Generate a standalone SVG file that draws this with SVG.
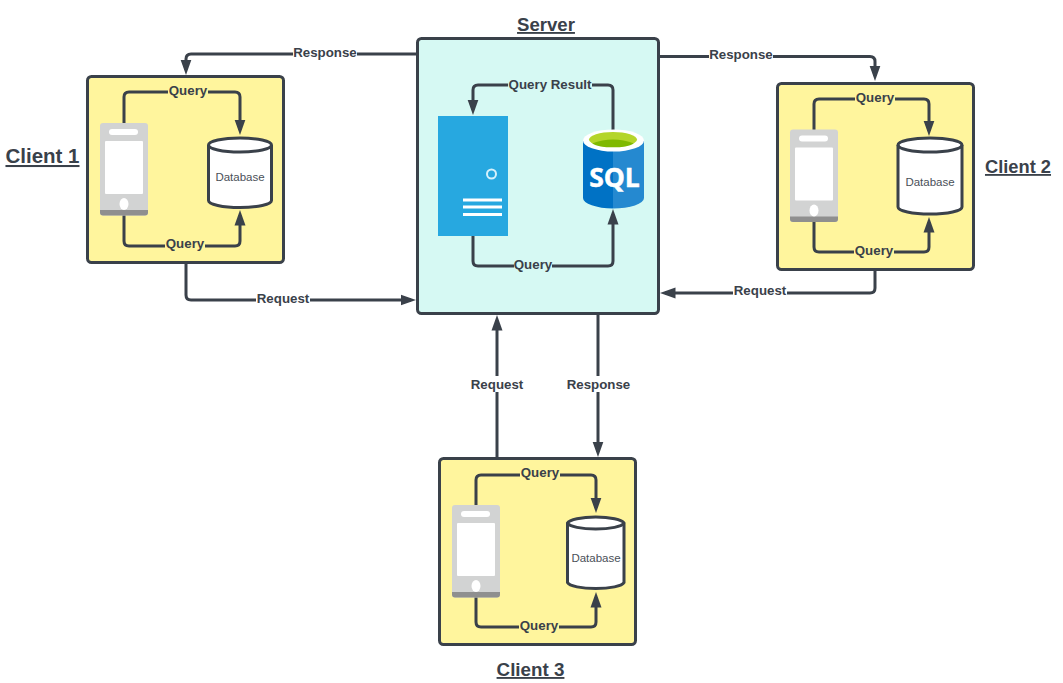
<svg xmlns="http://www.w3.org/2000/svg" width="1063" height="683" viewBox="0 0 1063 683">
<style>
text{font-family:"Liberation Sans",Arial,sans-serif;fill:#3a414a}
.box{stroke:#3a414a;stroke-width:3}
.conn{fill:none;stroke:#3a414a;stroke-width:3;stroke-linejoin:round}
.lbl{font-size:13.300px;font-weight:bold;text-anchor:middle}
.ttl{font-weight:bold;text-decoration:underline;text-anchor:middle}
.db{font-size:11.500px;text-anchor:middle;fill:#4a5058}
.cyl{fill:#fff;stroke:#3a414a;stroke-width:3}
.cyl2{fill:none;stroke:#3a414a;stroke-width:3}
</style>
<defs>
<marker id="a" markerUnits="userSpaceOnUse" markerWidth="16" markerHeight="12" refX="10.500" refY="6" orient="auto" viewBox="0 0 16 12"><path d="M0 0.500L15.500 6L0 11.500Z" fill="#3a414a"/></marker>
<g id="phone">
<rect x="0" y="0" width="48" height="92.500" rx="3" fill="#d2d3d3"/>
<path d="M0 87h48v2.500a3 3 0 0 1-3 3H3a3 3 0 0 1-3-3Z" fill="#8f8f8f"/>
<rect x="9" y="6" width="29" height="6" rx="3" fill="#fff"/>
<rect x="5" y="18" width="38" height="53" rx="1" fill="#fff"/>
<ellipse cx="24" cy="81" rx="4.500" ry="6" fill="#fff"/>
</g>
</defs>
<g id="connectors">
<path class="conn" marker-end="url(#a)" d="M417 54H191Q186 54 186 59V70"/>
<path class="conn" marker-end="url(#a)" d="M659 56.500H870Q875 56.500 875 61.500V76"/>
<path class="conn" marker-end="url(#a)" d="M186 263V295Q186 300 191 300H411"/>
<path class="conn" marker-end="url(#a)" d="M875 269V288Q875 293 870 293H665"/>
<path class="conn" marker-end="url(#a)" d="M497 458V320"/>
<path class="conn" marker-end="url(#a)" d="M598 314V452"/>
</g>
<g id="server"><rect class="box" x="417.500" y="38.500" width="241" height="275" rx="4" fill="#d6f9f3"/>
<path class="conn" marker-end="url(#a)" d="M613 130V90Q613 85 608 85H478Q473 85 473 90V110"/>
<path class="conn" marker-end="url(#a)" d="M473 236V261Q473 266 478 266H608Q613 266 613 261V214"/>
<rect x="438" y="116" width="70" height="120" fill="#27a8e0"/>
<circle cx="491.500" cy="174" r="4.500" fill="none" stroke="#d6f1fb" stroke-width="2"/>
<path d="M463 200H502M463 207H502M463 214.500H502" stroke="#fff" stroke-width="3"/>
<path d="M583 141V198A30.500 10.500 0 0 0 613 208.500V141Z" fill="#0072c5"/>
<path d="M613 141V208.500A31 10.500 0 0 0 644 198V141Z" fill="#2589d0"/>
<ellipse cx="613.500" cy="140.500" rx="30.500" ry="11" fill="#fff"/>
<ellipse cx="613" cy="139.500" rx="24" ry="7.500" fill="#b4d52a"/>
<path d="M592 143.500A24 7.500 0 0 0 634 143.500Q613 135.500 592 143.500Z" fill="#7fb900"/>
<text x="614.500" y="186.500" font-size="26.500" font-weight="bold" text-anchor="middle" stroke="#fff" stroke-width="0.500" style="fill:#fff;font-family:'Open Sans',sans-serif">SQL</text>
<rect x="508" y="77" width="84" height="16" fill="#d6f9f3"/><text class="lbl" x="550" y="88.500">Query Result</text>
<rect x="514" y="258" width="38" height="16" fill="#d6f9f3"/><text class="lbl" x="533" y="268.500">Query</text>
<text class="ttl" font-size="18.600" x="546" y="31">Server</text></g>
<g id="client1"><rect class="box" x="87.500" y="76.500" width="196" height="186" rx="4" fill="#fff59d"/>
<path class="conn" marker-end="url(#a)" d="M124 123V97Q124 92 129 92H235Q240 92 240 97V130"/>
<path class="conn" marker-end="url(#a)" d="M124 215V241Q124 246 129 246H235Q240 246 240 241V215"/>
<use href="#phone" x="100" y="123"/>
<path class="cyl" d="M208.500 145A31.500 7 0 0 1 271.500 145V200.500A31.500 7 0 0 1 208.500 200.500Z"/>
<path class="cyl2" d="M208.500 145A31.500 7 0 0 0 271.500 145"/>
<text class="db" x="240" y="181">Database</text>
<rect x="168" y="84" width="40" height="16" fill="#fff59d"/><text class="lbl" x="188" y="95">Query</text>
<rect x="165" y="236" width="40" height="16" fill="#fff59d"/><text class="lbl" x="185" y="248">Query</text>
<text class="ttl" font-size="20.500" x="42.500" y="163">Client 1</text></g>
<g id="client2"><rect class="box" x="777.500" y="83.500" width="196" height="186" rx="4" fill="#fff59d"/>
<path class="conn" marker-end="url(#a)" d="M814 130V104Q814 99 819 99H924Q929 99 929 104V131"/>
<path class="conn" marker-end="url(#a)" d="M814 222V247Q814 252 819 252H924Q929 252 929 247V222"/>
<use href="#phone" x="790" y="129.500"/>
<path class="cyl" d="M898 145A32 7 0 0 1 962 145V207A32 7 0 0 1 898 207Z"/>
<path class="cyl2" d="M898 145A32 7 0 0 0 962 145"/>
<text class="db" x="930" y="186">Database</text>
<rect x="855" y="91" width="40" height="16" fill="#fff59d"/><text class="lbl" x="875" y="102">Query</text>
<rect x="854" y="243" width="40" height="16" fill="#fff59d"/><text class="lbl" x="874" y="255">Query</text>
<text class="ttl" font-size="18.300" x="1018" y="173">Client 2</text></g>
<g id="client3"><rect class="box" x="439.500" y="458.500" width="196" height="186" rx="4" fill="#fff59d"/>
<path class="conn" marker-end="url(#a)" d="M476 505V480Q476 475 481 475H591Q596 475 596 480V508"/>
<path class="conn" marker-end="url(#a)" d="M476 597V622Q476 627 481 627H591Q596 627 596 622V597"/>
<use href="#phone" x="452" y="505"/>
<path class="cyl" d="M567.500 523A28.500 7 0 0 1 624 523V582.500A28.500 7 0 0 1 567.500 582.500Z"/>
<path class="cyl2" d="M567.500 523A28.500 7 0 0 0 624 523"/>
<text class="db" x="596" y="562">Database</text>
<rect x="520" y="465" width="40" height="16" fill="#fff59d"/><text class="lbl" x="540" y="477">Query</text>
<rect x="519" y="618" width="40" height="16" fill="#fff59d"/><text class="lbl" x="539" y="630">Query</text>
<text class="ttl" font-size="18.800" x="530.500" y="676">Client 3</text></g>
<g id="edge-labels">
<rect x="293" y="46" width="64" height="15" fill="#fff"/><text class="lbl" x="325" y="57">Response</text>
<rect x="709" y="48" width="64" height="15" fill="#fff"/><text class="lbl" x="741" y="59">Response</text>
<rect x="256" y="292" width="54" height="15" fill="#fff"/><text class="lbl" x="283" y="303">Request</text>
<rect x="733" y="284" width="54" height="15" fill="#fff"/><text class="lbl" x="760" y="295">Request</text>
<rect x="470" y="376" width="54" height="16" fill="#fff"/><text class="lbl" x="497" y="388.500">Request</text>
<rect x="566" y="376" width="65" height="16" fill="#fff"/><text class="lbl" x="598.500" y="388.500">Response</text>
</g>
</svg>
